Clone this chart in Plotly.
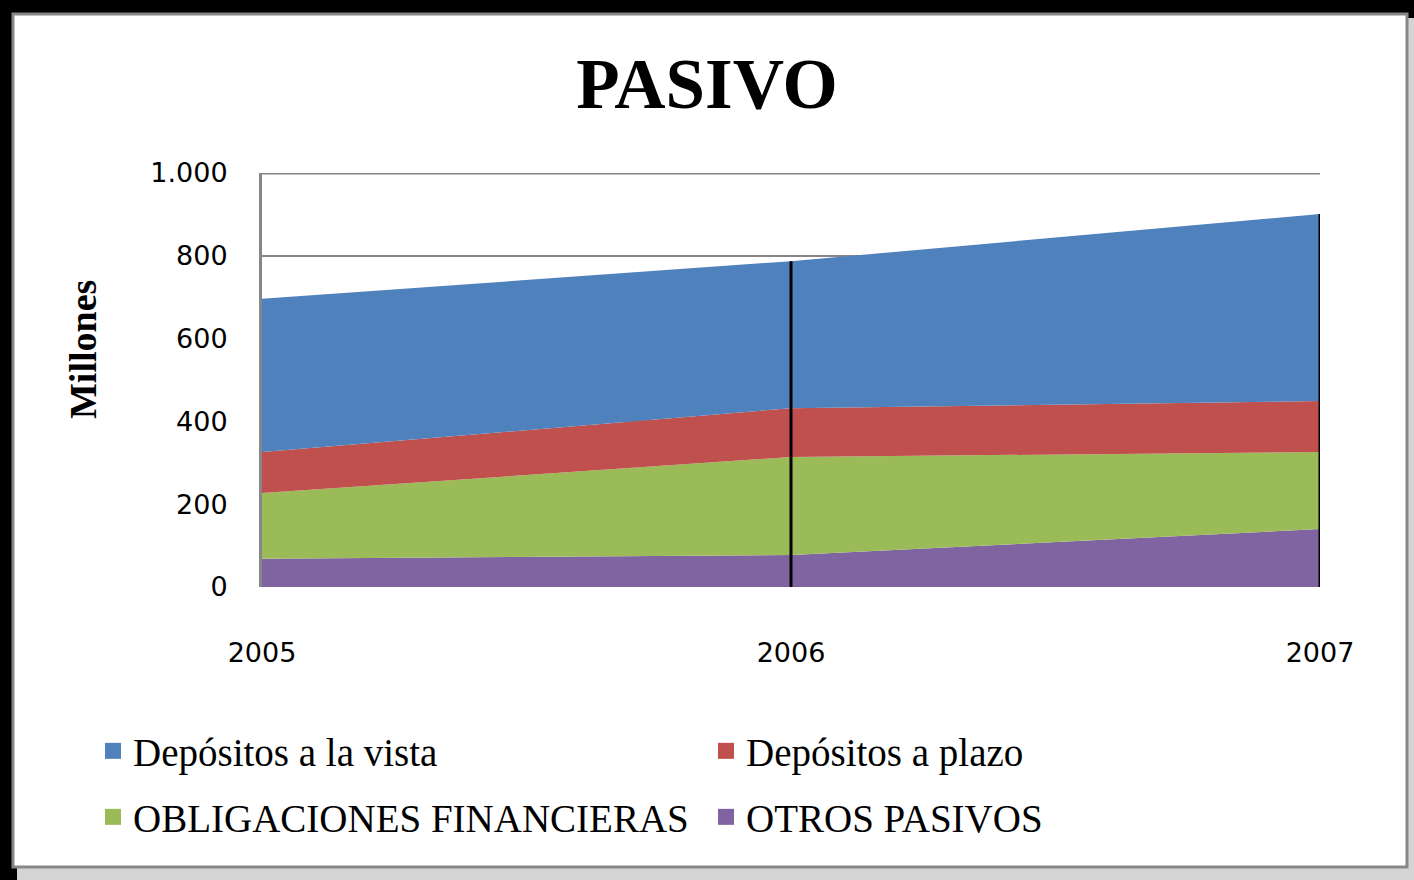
import plotly.graph_objects as go

# ---- data ----
years = [2005, 2006, 2007]
year_labels = ["2005", "2006", "2007"]
otros_pasivos = [68, 77, 140]
obligaciones_financieras = [159, 237, 186]
depositos_plazo = [99, 118, 123]
depositos_vista = [370, 355, 452]

series_names = ["OTROS PASIVOS", "OBLIGACIONES FINANCIERAS", "Depósitos a plazo", "Depósitos a la vista"]
series_values = [otros_pasivos, obligaciones_financieras, depositos_plazo, depositos_vista]
series_colors = ["#8064A2", "#9BBB59", "#C0504D", "#4F81BD"]
legend_rows = [["Depósitos a la vista", "Depósitos a plazo"],
               ["OBLIGACIONES FINANCIERAS", "OTROS PASIVOS"]]

y_ticks = [0, 200, 400, 600, 800, 1000]

W, H = 1414, 880
L, R, T, B = 262, 94, 173, 293
pw, ph = W - L - R, H - T - B

def px_x(p):
    return (p - L) / pw

def px_y(p):
    return (H - B - p) / ph

fig = go.Figure()

for name, vals, col in zip(series_names, series_values, series_colors):
    fig.add_trace(go.Scatter(
        x=years, y=vals, name=name, stackgroup="one", mode="none",
        fillcolor=col, showlegend=False, hoverinfo="x+y+name"))

color_of = dict(zip(series_names, series_colors))
legend_ids = ["legend", "legend2"]
for lid, row in zip(legend_ids, legend_rows):
    for name in row:
        fig.add_trace(go.Scatter(
            x=[None], y=[None], mode="markers", name=name, legend=lid,
            marker=dict(symbol="square", size=20, color=color_of[name]),
            showlegend=True))

totals = [sum(v) for v in zip(*series_values)]
shapes = []
# frame: shadow, white chart area with gray border
shapes.append(dict(type="rect", xref="paper", yref="paper", layer="below",
                   x0=px_x(17), x1=px_x(1414), y0=px_y(880), y1=px_y(18),
                   fillcolor="#d4d4d4", line=dict(width=0)))
shapes.append(dict(type="rect", xref="paper", yref="paper", layer="below",
                   x0=px_x(13), x1=px_x(1407), y0=px_y(867), y1=px_y(14),
                   fillcolor="white", line=dict(color="#878787", width=3)))
# top gridline at the maximum tick
shapes.append(dict(type="line", xref="paper", yref="y", x0=0, x1=1,
                   y0=y_ticks[-1], y1=y_ticks[-1], layer="below",
                   line=dict(color="#878787", width=3)))
# drop lines
for yr, tot in zip(years[1:], totals[1:]):
    shapes.append(dict(type="line", xref="x", yref="y", x0=yr, x1=yr, y0=0, y1=tot,
                       line=dict(color="black", width=3), layer="above"))

legend_common = dict(orientation="h", x=px_x(93), xanchor="left",
                     yanchor="middle", entrywidth=568, entrywidthmode="pixels",
                     font=dict(family="Liberation Serif", size=39, color="black"),
                     bgcolor="rgba(0,0,0,0)", itemsizing="trace",
                     traceorder="normal")

fig.update_layout(
    width=W, height=H,
    margin=dict(l=L, r=R, t=T, b=B),
    paper_bgcolor="black",
    plot_bgcolor="rgba(0,0,0,0)",
    separators=",.",
    shapes=shapes,
    title=dict(text="<b>PASIVO</b>", x=707 / W, xref="container", xanchor="center",
               y=1 - 83 / H, yref="container", yanchor="middle",
               font=dict(family="Liberation Serif", size=71, color="black")),
    xaxis=dict(range=[2005, 2007], tickvals=years, ticktext=year_labels,
               showgrid=False, zeroline=False, showline=False,
               ticks="", ticklabelstandoff=47,
               tickfont=dict(family="DejaVu Sans", size=27, color="black")),
    yaxis=dict(range=[0, 1000], tickvals=y_ticks, tickformat=",d",
               showgrid=True, gridcolor="#878787", gridwidth=2,
               zeroline=False, showline=True, linecolor="#878787", linewidth=3,
               ticks="", ticklabelstandoff=26,
               tickfont=dict(family="DejaVu Sans", size=27, color="black")),
    legend=dict(legend_common, y=px_y(751)),
    legend2=dict(legend_common, y=px_y(817)),
    annotations=[dict(text="<b>Millones</b>", textangle=-90, xref="paper", yref="paper",
                      x=px_x(83), y=px_y(350), xanchor="center", yanchor="middle",
                      showarrow=False,
                      font=dict(family="Liberation Serif", size=38, color="black"))],
)

# bottom axis line at zero
fig.add_hline(y=0, line=dict(color="#878787", width=3), layer="below")

fig.write_html("out.html",
               config={"displayModeBar": False},
               post_script="document.body.style.margin='0';document.body.style.overflow='hidden';")
